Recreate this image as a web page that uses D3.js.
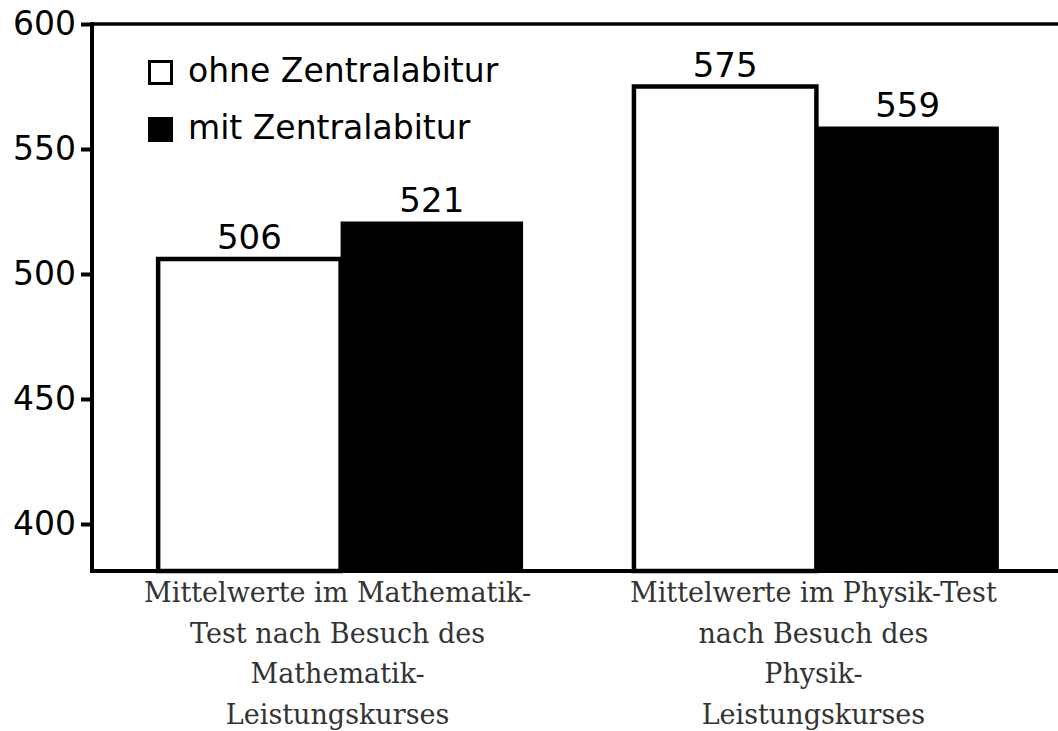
<!DOCTYPE html>
<html>
<head>
<meta charset="utf-8">
<script src="https://cdn.jsdelivr.net/npm/d3@7"></script>
<style>
    body { margin: 0; background: #fff; }
    svg { display: block; }
</style>
</head>
<body>
<svg width="1058" height="731"></svg>
<script>
/*jslint browser: true */
/*global d3 */
"use strict";

var categories = ["Mathematik", "Physik"];
var categoryLabels = [
    ["Mittelwerte im Mathematik-", "Test nach Besuch des",
        "Mathematik-", "Leistungskurses"],
    ["Mittelwerte im Physik-Test", "nach Besuch des",
        "Physik-", "Leistungskurses"]
];
var seriesNames = ["ohne Zentralabitur", "mit Zentralabitur"];
var ohneValues = [506, 575];
var mitValues = [521, 559];
var yTicks = [400, 450, 500, 550, 600];

(function () {
    var svg = d3.select("svg");
    var width = 1058;
    var plotLeft = 92;
    var plotTop = 24;
    var plotBottom = 571;
    var numFont = "'DejaVu Sans', sans-serif";

    var yScale = d3.scaleLinear()
        .domain([381.2, 600])
        .range([plotBottom, plotTop]);

    // bands run a little past the right edge, like the cropped original
    var xScale = d3.scaleBand()
        .domain(categories)
        .range([plotLeft, 1065])
        .paddingInner(0.233)
        .paddingOuter(0.139);

    var subScale = d3.scaleBand()
        .domain(seriesNames)
        .range([0, xScale.bandwidth()]);

    var fills = {"ohne Zentralabitur": "#fff", "mit Zentralabitur": "#000"};

    // bars
    var groups = svg.append("g")
        .selectAll("g")
        .data(categories)
        .join("g")
        .attr("transform", function (d) {
            return "translate(" + xScale(d) + ",0)";
        });

    var bars = groups.selectAll("g.bar")
        .data(function (ignore, i) {
            return [
                {series: seriesNames[0], value: ohneValues[i]},
                {series: seriesNames[1], value: mitValues[i]}
            ];
        })
        .join("g")
        .attr("class", "bar");

    bars.append("rect")
        .attr("x", function (d) {
            return subScale(d.series);
        })
        .attr("y", function (d) {
            return yScale(d.value);
        })
        .attr("width", subScale.bandwidth())
        .attr("height", function (d) {
            return plotBottom - yScale(d.value);
        })
        .attr("fill", function (d) {
            return fills[d.series];
        })
        .attr("stroke", "#000")
        .attr("stroke-width", function (d) {
            return d.series === seriesNames[0] ? 4.5 : 0;
        });

    bars.append("text")
        .attr("x", function (d) {
            return subScale(d.series) + subScale.bandwidth() / 2;
        })
        .attr("y", function (d) {
            return yScale(d.value) - 10;
        })
        .attr("text-anchor", "middle")
        .attr("font-family", numFont)
        .attr("font-size", 34)
        .attr("fill", "#000")
        .text(function (d) {
            return d.value;
        });

    // frame
    svg.append("line")
        .attr("x1", plotLeft)
        .attr("x2", width)
        .attr("y1", yScale(600))
        .attr("y2", yScale(600))
        .attr("stroke", "#000")
        .attr("stroke-width", 3.5);

    svg.append("line")
        .attr("x1", plotLeft)
        .attr("x2", width)
        .attr("y1", plotBottom)
        .attr("y2", plotBottom)
        .attr("stroke", "#000")
        .attr("stroke-width", 4);

    var yAxis = d3.axisLeft(yScale)
        .tickValues(yTicks)
        .tickSize(11)
        .tickPadding(5)
        .tickSizeOuter(0);

    var yAxisGroup = svg.append("g")
        .attr("transform", "translate(" + plotLeft + ",0)")
        .call(yAxis);

    yAxisGroup.select(".domain")
        .attr("d", "M0," + (plotTop - 1.75) + "V" + (plotBottom + 2))
        .attr("stroke", "#000")
        .attr("stroke-width", 4);
    yAxisGroup.selectAll(".tick line")
        .attr("stroke", "#000")
        .attr("stroke-width", 4);
    yAxisGroup.selectAll(".tick text")
        .attr("font-family", numFont)
        .attr("font-size", 33)
        .attr("fill", "#000");

    // category labels
    svg.append("g")
        .selectAll("text")
        .data(categories)
        .join("text")
        .attr("x", function (d) {
            return xScale(d) + xScale.bandwidth() / 2 - 3;
        })
        .attr("y", 602)
        .attr("text-anchor", "middle")
        .attr("font-family", "'DejaVu Serif', serif")
        .attr("font-size", 27)
        .attr("fill", "#333")
        .selectAll("tspan")
        .data(function (ignore, i) {
            return categoryLabels[i];
        })
        .join("tspan")
        .attr("x", function () {
            return d3.select(this.parentNode).attr("x");
        })
        .attr("dy", function (ignore, i) {
            return i === 0 ? 0 : 40.5;
        })
        .text(function (d) {
            return d;
        });

    // legend
    var legend = svg.append("g")
        .selectAll("g")
        .data(seriesNames)
        .join("g")
        .attr("transform", function (ignore, i) {
            return "translate(148," + (60 + i * 57) + ")";
        });

    legend.append("rect")
        .attr("x", function (d) {
            return d === seriesNames[0] ? 1.5 : 0;
        })
        .attr("y", function (d) {
            return d === seriesNames[0] ? 1.5 : 0;
        })
        .attr("width", function (d) {
            return d === seriesNames[0] ? 22 : 25;
        })
        .attr("height", function (d) {
            return d === seriesNames[0] ? 22 : 25;
        })
        .attr("fill", function (d) {
            return fills[d];
        })
        .attr("stroke", "#000")
        .attr("stroke-width", function (d) {
            return d === seriesNames[0] ? 3 : 0;
        });

    legend.append("text")
        .attr("x", 40)
        .attr("y", 22)
        .attr("font-family", numFont)
        .attr("font-size", 33)
        .attr("fill", "#000")
        .text(function (d) {
            return d;
        });
}());
</script>
</body>
</html>
